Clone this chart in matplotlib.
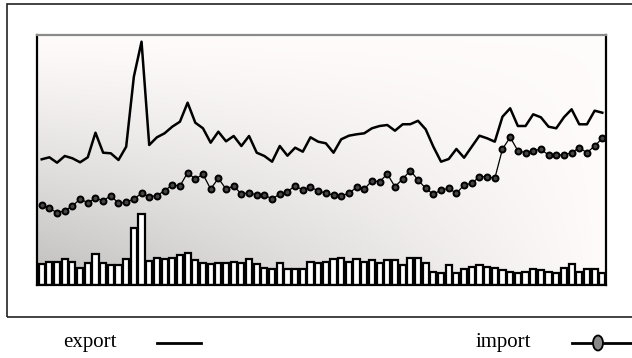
import numpy as np
import matplotlib
matplotlib.use('Agg')
import matplotlib.pyplot as plt
from matplotlib.patches import Rectangle, Ellipse
from matplotlib.lines import Line2D

# values (height above the plot floor)
export = [125.7, 127.7, 122.3, 129, 126.7, 122.7, 127.7, 152.3, 132.3, 131.7,
          125, 138.3, 208.3, 243.3, 140, 147.7, 151.7, 158.3, 163.3, 182.3,
          162.3, 156.7, 142.3, 153.3, 143.7, 149, 139, 149, 132.3, 129,
          123.3, 139, 129.3, 137.3, 133.3, 147.7, 143.3, 141.7, 132.3, 145.7,
          149.3, 150.7, 151.7, 156.7, 159, 160, 154.3, 160.7, 160.8, 164.2,
          155.7, 138.3, 123.3, 126, 136, 127.3, 138.3, 149.3, 146.7, 143.3,
          168.3, 176.7, 159, 159, 170.7, 167.7, 158.3, 156.7, 167.7, 175.7,
          160.7, 160.7, 174.3, 172.3]
imports = [80, 76.7, 72.3, 74.3, 79, 86, 82.3, 86.7, 84.3, 89.3,
           81.7, 82.7, 86, 91.7, 88.3, 89.3, 94.3, 100, 99, 112.3,
           106, 110.7, 96, 106.7, 96, 99, 91, 92.3, 90, 90,
           86, 91, 93.3, 99.3, 95, 97.7, 94.3, 91.7, 90, 89.3,
           91.7, 97.7, 95.7, 104.3, 103.3, 111, 98.3, 106, 114.5, 105,
           96.7, 90.7, 95, 96.7, 91.7, 100, 101.7, 108.3, 108.3, 106.7,
           136, 147.7, 134.3, 132.3, 134.3, 135.7, 130, 130, 130, 132.3,
           137.3, 132.3, 139, 146.7]
volume = [21, 23.3, 23.3, 25.7, 22.7, 16.7, 21.7, 30.7, 22.3, 19.7,
          19.7, 25.7, 56.7, 71, 24.3, 26.7, 25.7, 27.3, 30, 32.3,
          25, 21.7, 20.7, 21.7, 21.7, 23.3, 22.3, 25.7, 20.7, 16.7,
          15.7, 21.7, 16, 16, 15.7, 22.7, 22.3, 22.7, 25.7, 26.7,
          23.3, 25.7, 23.3, 25, 21.7, 25, 25, 20, 27.3, 27.3,
          21.7, 13.3, 11.7, 20, 11.7, 15.7, 17.7, 20, 17.7, 16.7,
          15, 12.7, 11.7, 13.3, 16, 15, 13.3, 11.7, 16.7, 20.7,
          13.3, 15.7, 16, 11.7]
labels = ['export', 'import']

x = np.arange(len(export))

fig = plt.figure(figsize=(6.32, 3.58), dpi=100)
ax = fig.add_axes([37/632, 1-285/358, 569/632, 250/358])

# grey-to-white background gradient
u = np.linspace(0, 1, 300)
v = np.linspace(0, 1, 200)
U, V = np.meshgrid(u, v)
g = 1 - 0.25 * (1 - U) ** 1.0 * V ** 1.2
ax.imshow(np.dstack([g, g*0.985, g*0.985]), extent=[0, 1, 0, 1],
          transform=ax.transAxes, aspect='auto', zorder=0)

ax.bar(x, volume, width=0.8, color='white', edgecolor='black', lw=1.6, zorder=2)
ax.plot(x, export, color='black', lw=1.8, zorder=3)
ax.plot(x, imports, color='black', lw=0.9, marker='o', ms=4.3,
        mfc='#444444', mec='black', mew=1.4, zorder=3)

ax.set_xlim(-0.612, 73.48)
ax.set_ylim(0, 250)
ax.set_xticks([])
ax.set_yticks([])
for s in ['left', 'right', 'bottom']:
    ax.spines[s].set_color('black')
    ax.spines[s].set_linewidth(1.6)
ax.spines['top'].set_color('#8a8a8a')
ax.spines['top'].set_linewidth(1.6)

# outer frame
fig.patches.append(Rectangle((6.5/632, 1-317/358), 640/632, 313/358,
                             transform=fig.transFigure, fill=False,
                             ec='#222222', lw=1.2))

# legend drawn by hand at the bottom
fy = 1 - 343/358
fig.text(63/632, fy, labels[0], family='Liberation Serif', fontsize=15,
         va='center', ha='left')
fig.lines.append(Line2D([157/632, 201/632], [fy, fy], transform=fig.transFigure,
                        color='black', lw=2))
fig.text(476/632, fy, labels[1], family='Liberation Serif', fontsize=15,
         va='center', ha='left')
fig.lines.append(Line2D([572/632, 632/632], [fy, fy], transform=fig.transFigure,
                        color='black', lw=2))
fig.patches.append(Ellipse((598/632, fy), 10/632, 15/358, transform=fig.transFigure,
                           fc='#888888', ec='black', lw=1.3, zorder=5))

fig.savefig('out.png', dpi=100)
